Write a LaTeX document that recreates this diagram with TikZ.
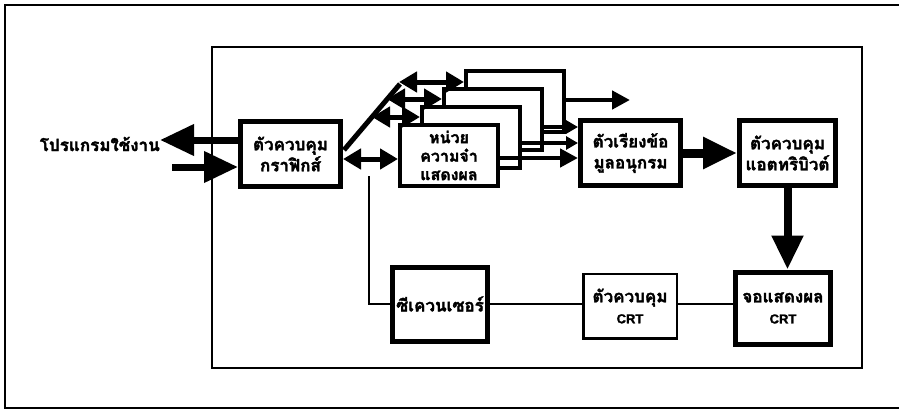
\documentclass[tikz,border=0pt]{standalone}
\usepackage{fontspec}
\newfontfamily\thaifont[Script=Thai, FakeBold=2]{Loma}
\newfontfamily\latfont[FakeBold=1.5]{Liberation Sans}
\usetikzlibrary{arrows.meta}
\tikzset{
  lbl/.style={font=\thaifont\bfseries\fontsize{17}{21}\selectfont, align=center, inner sep=0pt},
  bigbox/.style={draw, line width=5pt, fill=white, lbl},
  membox/.style={draw, line width=4pt, fill=white, lbl},
  thinbox/.style={draw, line width=2.5pt, fill=white, lbl},
  bigarr/.style={line width=7pt, -{Triangle[length=34pt,width=30pt]}},
  medarr/.style={line width=5pt, {Triangle[length=18pt,width=20pt]}-{Triangle[length=18pt,width=20pt]}},
  memarr/.style={line width=4.5pt, -{Triangle[length=18pt,width=18pt]}},
  smallarr/.style={line width=4.5pt, -{Triangle[length=12pt,width=13pt]}},
  thinline/.style={line width=2pt},
  frame/.style={line width=2.2pt},
}
\newcommand{\crt}{{\latfont\bfseries\fontsize{13}{15}\selectfont CRT}}
\begin{document}
\begin{tikzpicture}[x=1pt,y=-1pt]
\useasboundingbox (0,0) rectangle (899,412);
% frames
\draw[frame] (899,5) -- (5,5) -- (5,408) -- (899,408);
\draw[thinline] (212,47) rectangle (862,368);

% boxes
\node[bigbox, minimum width=100pt, minimum height=65pt] (gc) at (290.5,154) {ตัวควบคุม\\กราฟิกส์};
\node[membox, minimum width=98pt, minimum height=61pt] (m4) at (515,101.5) {};
\node[membox, minimum width=98pt, minimum height=61pt] (m3) at (493,119.5) {};
\node[membox, minimum width=98pt, minimum height=61pt] (m2) at (471,137.5) {};
\node[membox, minimum width=98pt, minimum height=61pt, font=\thaifont\bfseries\fontsize{16}{18.5}\selectfont] (m1) at (449,155.5) {หน่วย\\ความจำ\\แสดงผล};
\node[bigbox, minimum width=100pt, minimum height=65pt] (sort) at (630.5,153) {ตัวเรียงข้อ\\มูลอนุกรม};
\node[bigbox, minimum width=96pt, minimum height=65pt] (attr) at (787.5,153) {ตัวควบคุม\\แอตทริบิวต์};
\node[bigbox, minimum width=95pt, minimum height=74pt] (seq) at (440,304) {ซีเควนเซอร์};
\node[thinbox, minimum width=93.5pt, minimum height=64.5pt] (crtc) at (630,306) {ตัวควบคุม\\\crt};
\node[bigbox, minimum width=95pt, minimum height=72pt] (crtd) at (783,308) {จอแสดงผล\\\crt};

% application program
\node[lbl, anchor=east] (app) at (160,144) {โปรแกรมใช้งาน};
\draw[bigarr] (gc.west |- 0,140) -- (app.east |- 0,140);
\coordinate (inA) at (172,167);
\draw[bigarr] (inA) -- (gc.west |- inA);

% graphics controller <-> memory planes
\draw[medarr] (gc.east |- 0,159) -- (m1.west |- 0,159);
\coordinate (busA) at (344,150);
\coordinate (busB) at (400,84);
\draw[line width=5pt] (busA) -- (busB);
\coordinate (b2) at (372,117);
\coordinate (b3) at (387,99);
\coordinate (b4) at (399,82);
\draw[medarr] (b2) -- (b2 -| m2.west);
\draw[medarr] (b3) -- (b3 -| m3.west);
\draw[medarr] (b4) -- (b4 -| m4.west);

% memory planes -> serializer
\draw[memarr] (m1.east |- 0,158) -- (sort.west |- 0,158);
\draw[smallarr] (m2.east |- 0,143) -- (sort.west |- 0,143);
\draw[smallarr] (m3.east |- 0,127) -- (sort.west |- 0,127);
\coordinate (top4) at (630,100);
\draw[memarr] (m4.east |- top4) -- (top4);

% serializer -> attribute controller -> CRT display
\draw[bigarr, line width=9pt] (sort.east) -- (attr.west);
\draw[bigarr, line width=8pt] (attr.south) -- (attr.south |- crtd.north);

% thin connections
\coordinate (tap) at (369,176);
\draw[thinline] (tap) |- (seq.west);
\draw[thinline] (seq.east) -- (seq.east -| crtc.west);
\draw[thinline] (seq.east -| crtc.east) -- (seq.east -| crtd.west);
\end{tikzpicture}
\end{document}
